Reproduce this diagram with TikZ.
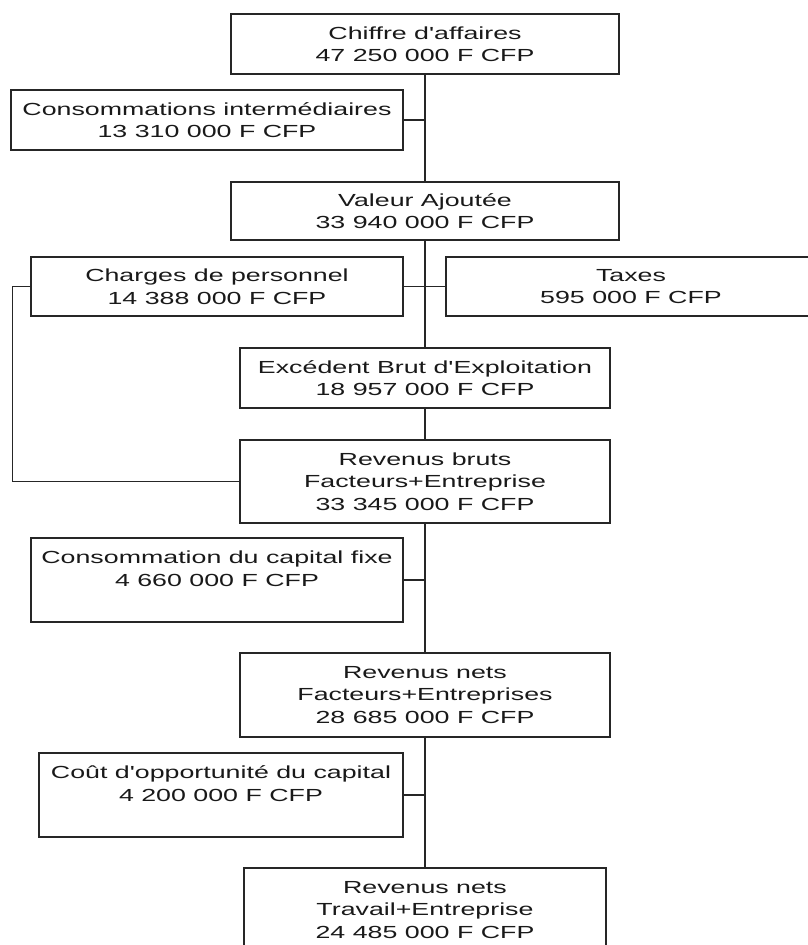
\documentclass[tikz,border=0pt]{standalone}
\usepackage{fontspec}
\newfontfamily\boitefont[FakeStretch=1.53]{Liberation Sans}
\usepackage{tikz}

\begin{document}
\begin{tikzpicture}[x=1pt, y=-1pt,
		boite/.style={draw=black!85, line width=1.4pt, inner sep=0pt, align=center, text=black!90, font=\boitefont\fontsize{17.5}{22.5}\selectfont},
		trait/.style={draw=black!85, line width=1.4pt}]
		\useasboundingbox (0,0) rectangle (807,945);
		\begin{scope}
				\node[boite, minimum width=388pt, minimum height=60pt] (ca) at (425,44) {Chiffre d'affaires\\47 250 000 F CFP};
				\node[boite, minimum width=392pt, minimum height=60pt] (ci) at (207,120) {Consommations intermédiaires\\13 310 000 F CFP};
				\node[boite, minimum width=388pt, minimum height=58pt] (va) at (425,211) {Valeur Ajoutée\\33 940 000 F CFP};
				\node[boite, minimum width=372pt, minimum height=59pt] (cp) at (217,286.5) {Charges de personnel\\14 388 000 F CFP};
				\node[boite, minimum width=370pt, minimum height=59pt] (tx) at (631,286.5) {Taxes\\595 000 F CFP};
				\node[boite, minimum width=370pt, minimum height=60pt] (ebe) at (425,378) {Excédent Brut d'Exploitation\\18 957 000 F CFP};
				\node[boite, minimum width=370pt, minimum height=83pt] (rb) at (425,481.5) {Revenus bruts\\Facteurs+Entreprise\\33 345 000 F CFP};
				\node[boite, minimum width=372pt, minimum height=84pt] (ccf) at (217,580) {Consommation du capital fixe\\4 660 000 F CFP\\\mbox{}};
				\node[boite, minimum width=370pt, minimum height=84pt] (rn) at (425,695) {Revenus nets\\Facteurs+Entreprises\\28 685 000 F CFP};
				\node[boite, minimum width=364pt, minimum height=84pt] (co) at (221,795) {Coût d'opportunité du capital\\4 200 000 F CFP\\\mbox{}};
				\node[boite, minimum width=362pt, minimum height=84pt] (rt) at (425,910) {Revenus nets\\Travail+Entreprise\\24 485 000 F CFP};
		\end{scope}
		\begin{scope}
				\draw[trait] (ca.south) -- (va.north);
				\draw[trait] (ci.east) -- (ci.east -| ca.south);
				\draw[trait] (va.south) -- (ebe.north);
				\draw[trait] (cp.east) -- (tx.west);
				\draw[trait] (ebe.south) -- (rb.north);
				\draw[trait] (cp.west) -- ++(-18,0) |- (rb.west);
				\draw[trait] (rb.south) -- (rn.north);
				\draw[trait] (ccf.east) -- (ccf.east -| rb.south);
				\draw[trait] (rn.south) -- (rt.north);
				\draw[trait] (co.east) -- (co.east -| rn.south);
		\end{scope}
\end{tikzpicture}
\end{document}
